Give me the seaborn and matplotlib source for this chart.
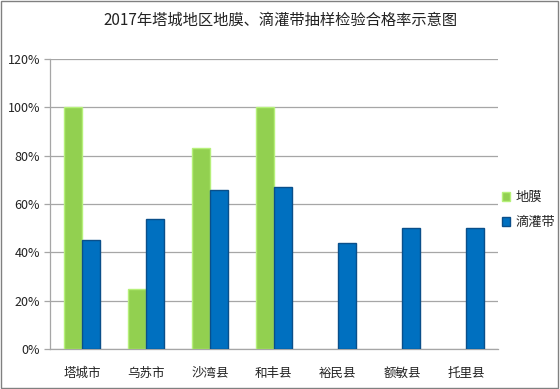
import matplotlib
matplotlib.use("Agg")
import matplotlib.pyplot as plt
import seaborn as sns
import pandas as pd
from matplotlib.ticker import FuncFormatter, MultipleLocator
from matplotlib.patches import Rectangle

categories = ["塔城市", "乌苏市", "沙湾县", "和丰县", "裕民县", "额敏县", "托里县"]
film = [100, 25, 83, 100, 0, 0, 0]
drip = [45, 54, 66, 67, 44, 50, 50]
series = ["地膜", "滴灌带"]
colors = ["#92D050", "#0070C0"]
edge_colors = ["#B6F07A", "#0A4F8A"]

df = pd.DataFrame({
    "cat": categories * 2,
    "val": film + drip,
    "series": [series[0]] * len(categories) + [series[1]] * len(categories),
})

sns.set_theme(style="white")
plt.rcParams["font.family"] = ["Noto Sans CJK SC", "DejaVu Sans"]

fig = plt.figure(figsize=(5.6, 3.89), dpi=100)
ax = fig.add_axes([0.089, 0.103, 0.80, 0.745])

sns.barplot(data=df, x="cat", y="val", hue="series", palette=colors,
            saturation=1, width=0.56, ax=ax, legend=False, zorder=3)

for i, cont in enumerate(ax.containers):
    for p in cont.patches:
        if p.get_height() > 0:
            p.set_edgecolor(edge_colors[i])
            p.set_linewidth(1.0)
        else:
            p.set_linewidth(0)

ax.set_ylim(0, 120)
ax.yaxis.set_major_locator(MultipleLocator(20))
ax.yaxis.set_major_formatter(FuncFormatter(lambda v, _: f"{int(v)}%"))
ax.set_xlim(-0.5, len(categories) - 0.5)
ax.set_xlabel("")
ax.set_ylabel("")
ax.grid(axis="y", color="#A6A6A6", linewidth=0.9, zorder=0)
ax.set_axisbelow(True)
for s in ["top", "right"]:
    ax.spines[s].set_visible(False)
for s in ["left", "bottom"]:
    ax.spines[s].set_color("#A6A6A6")
    ax.spines[s].set_linewidth(0.9)
ax.tick_params(axis="y", left=True, length=4, width=0.9, color="#A6A6A6",
               labelsize=9, labelcolor="#222222", pad=3)
ax.tick_params(axis="x", bottom=False, labelsize=9, labelcolor="#222222", pad=7)

fig.text(0.5, 0.948, "2017年塔城地区地膜、滴灌带抽样检验合格率示意图",
         ha="center", va="center", fontsize=11, color="#222222")

# legend
handles = [Rectangle((0, 0), 1, 1, facecolor=c, edgecolor=e) for c, e in zip(colors, edge_colors)]
fig.legend(handles, series, loc="center left", bbox_to_anchor=(0.875, 0.46),
           frameon=False, fontsize=9.5, handlelength=0.6, handleheight=0.6,
           handletextpad=0.4, labelspacing=0.9)

# outer frame
fig.patches.append(Rectangle((0.002, 0.003), 0.995, 0.994, transform=fig.transFigure,
                             fill=False, edgecolor="#808080", linewidth=1.0))

fig.savefig("out.png", dpi=100)
